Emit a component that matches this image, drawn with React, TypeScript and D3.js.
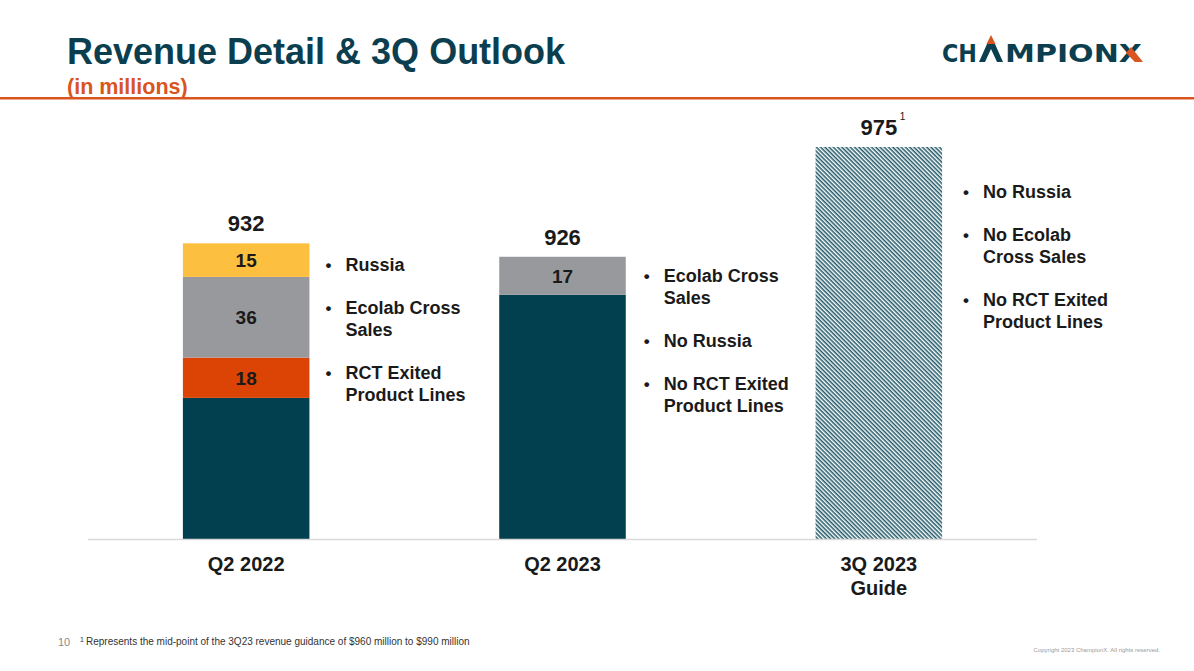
import React from "react";
import * as d3 from "d3";

const categories = ["Q2 2022", "Q2 2023", "3Q 2023 Guide"];
const categoryLines = [["Q2 2022"], ["Q2 2023"], ["3Q 2023", "Guide"]];
const baseRevenue = [863, 909, 0];
const rctExited = [18, 0, 0];
const ecolabCross = [36, 17, 0];
const russia = [15, 0, 0];
const guidance = [0, 0, 975];
const totals = [932, 926, 975];
const totalSuperscripts = ["", "", "1"];
const bulletNotes = [
  [["Russia"], ["Ecolab Cross", "Sales"], ["RCT Exited", "Product Lines"]],
  [["Ecolab Cross", "Sales"], ["No Russia"], ["No RCT Exited", "Product Lines"]],
  [["No Russia"], ["No Ecolab", "Cross Sales"], ["No RCT Exited", "Product Lines"]],
];
const bulletTops = [265, 276, 192];
const bulletOffsets = [16, 18, 21];
const seriesKeys = ["base", "rct", "ecolab", "russia"];
const seriesColors: Record<string, string> = {
  base: "#023f4f",
  rct: "#dc4405",
  ecolab: "#97999c",
  russia: "#fdbf3f",
};

const FONT = "'Liberation Sans', Arial, sans-serif";
const TEAL = "#0b3f50";
const ORANGE = "#d9541e";

function Logo() {
  const aL = 979;
  const aR = 1003;
  const c = (aL + aR) / 2;
  const logoFont = "'DejaVu Sans', sans-serif";
  return (
    <g>
      <text
        x={942}
        y={62}
        fontSize={25}
        fontWeight="bold"
        fill={TEAL}
        fontFamily={logoFont}
        textLength={35}
        lengthAdjust="spacingAndGlyphs"
      >
        CH
      </text>
      <polygon
        points={`${aL},62 ${c - 4},44 ${c + 4},44 ${aR},62 ${aR - 6},62 ${c},49 ${aL + 6},62`}
        fill={TEAL}
      />
      <polygon points={`${c},35 ${c - 4.5},44 ${c + 4.5},44`} fill={ORANGE} />
      <text
        x={1005}
        y={62}
        fontSize={25}
        fontWeight="bold"
        fill={TEAL}
        fontFamily={logoFont}
        textLength={137}
        lengthAdjust="spacingAndGlyphs"
      >
        MPIONX
      </text>
      <polygon points="1126,53 1131,47 1143,62 1135,62" fill={ORANGE} />
    </g>
  );
}

export default function App() {
  const W = 1194;
  const H = 671;
  const yMin = 800;
  const baseline = 539;
  const x = d3
    .scaleBand<string>()
    .domain(categories)
    .range([88, 1037])
    .paddingInner(0.6)
    .paddingOuter(0.3);
  const y = d3.scaleLinear().domain([yMin, 1000]).range([baseline, 91]);

  const rows = categories.map((c, i) => ({
    cat: c,
    base: baseRevenue[i] > 0 ? baseRevenue[i] - yMin : 0,
    rct: rctExited[i],
    ecolab: ecolabCross[i],
    russia: russia[i],
  }));
  const stacked = d3.stack<any>().keys(seriesKeys)(rows);
  const bw = x.bandwidth();

  return (
    <svg
      width={W}
      height={H}
      style={{ position: "absolute", left: 0, top: 0, background: "#fff" }}
      fontFamily={FONT}
    >
      <defs>
        <pattern
          id="hatch"
          patternUnits="userSpaceOnUse"
          width={3}
          height={3}
          patternTransform="rotate(45)"
        >
          <rect width={3} height={3} fill="#ffffff" />
          <rect x={0} y={0} width={3} height={1.55} fill="#245a69" />
        </pattern>
      </defs>

      {/* Header */}
      <text x={67} y={64} fontSize={36} fontWeight="bold" fill={TEAL}>
        Revenue Detail &amp; 3Q Outlook
      </text>
      <text x={67} y={94} fontSize={21.5} fontWeight="bold" fill={ORANGE}>
        (in millions)
      </text>
      <rect x={0} y={97} width={W} height={2.5} fill={ORANGE} />

      <Logo />

      {/* Bars */}
      {stacked.map((s) =>
        s.map((d, i) => {
          const h = y(yMin + d[0]) - y(yMin + d[1]);
          if (h <= 0) return null;
          return (
            <rect
              key={s.key + i}
              x={x(categories[i])}
              y={y(yMin + d[1])}
              width={bw}
              height={h}
              fill={seriesColors[s.key]}
            />
          );
        })
      )}
      {guidance.map((g, i) =>
        g > 0 ? (
          <rect
            key={"g" + i}
            x={x(categories[i])}
            y={y(g)}
            width={bw}
            height={baseline - y(g)}
            fill="url(#hatch)"
          />
        ) : null
      )}

      {/* Segment labels */}
      {stacked
        .filter((s) => s.key !== "base")
        .map((s) =>
          s.map((d, i) => {
            const v = d[1] - d[0];
            if (v <= 0) return null;
            const cy = (y(yMin + d[0]) + y(yMin + d[1])) / 2;
            return (
              <text
                key={"l" + s.key + i}
                x={(x(categories[i]) as number) + bw / 2}
                y={cy + 7}
                textAnchor="middle"
                fontSize={19}
                fontWeight="bold"
                fill="#1a1a1a"
              >
                {v}
              </text>
            );
          })
        )}

      {/* Totals */}
      {totals.map((t, i) => {
        const cx = (x(categories[i]) as number) + bw / 2;
        return (
          <g key={"t" + i}>
            <text
              x={cx}
              y={y(t) - 12}
              textAnchor="middle"
              fontSize={22}
              fontWeight="bold"
              fill="#1a1a1a"
            >
              {t}
            </text>
            {totalSuperscripts[i] && (
              <text x={cx + 21} y={y(t) - 27} fontSize={10} fill="#1a1a1a">
                {totalSuperscripts[i]}
              </text>
            )}
          </g>
        );
      })}

      {/* Axis line */}
      <line x1={88} x2={1037} y1={baseline + 0.5} y2={baseline + 0.5} stroke="#d9d9d9" strokeWidth={1.5} />

      {/* Category labels */}
      {categoryLines.map((lines, i) => {
        const cx = (x(categories[i]) as number) + bw / 2;
        return (
          <text key={"c" + i} textAnchor="middle" fontSize={20} fontWeight="bold" fill="#1a1a1a">
            {lines.map((ln, j) => (
              <tspan key={j} x={cx} y={571 + j * 24}>
                {ln}
              </tspan>
            ))}
          </text>
        );
      })}

      {/* Bullet notes */}
      {bulletNotes.map((notes, i) => {
        const bx = (x(categories[i]) as number) + bw + bulletOffsets[i];
        let cy = bulletTops[i];
        const out: any[] = [];
        notes.forEach((lines, k) => {
          out.push(
            <text key={"b" + i + k} x={bx} y={cy + 6} fontSize={17} fontWeight="bold" fill="#1a1a1a">
              •
            </text>
          );
          lines.forEach((ln, j) => {
            out.push(
              <text
                key={"n" + i + k + j}
                x={bx + 20}
                y={cy + 6 + j * 22}
                fontSize={18}
                fontWeight="bold"
                fill="#1a1a1a"
              >
                {ln}
              </text>
            );
          });
          cy += (lines.length - 1) * 22 + 43;
        });
        return <g key={"bn" + i}>{out}</g>;
      })}

      {/* Footer */}
      <text x={58} y={646} fontSize={11} fill="#8a8a8a">
        10
      </text>
      <text x={80} y={642} fontSize={7} fill="#333">
        1
      </text>
      <text x={86} y={645} fontSize={10} fill="#333">
        Represents the mid-point of the 3Q23 revenue guidance of $960 million to $990 million
      </text>
      <text x={1160} y={652} fontSize={6} fill="#9a9a9a" textAnchor="end">
        Copyright 2023 ChampionX. All rights reserved.
      </text>
    </svg>
  );
}
